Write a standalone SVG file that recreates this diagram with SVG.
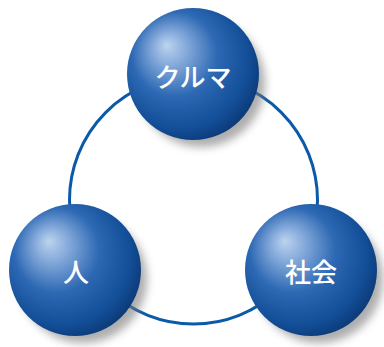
<svg xmlns="http://www.w3.org/2000/svg" width="384" height="347" viewBox="0 0 384 347">
<style>
.lbl{font-family:"Noto Sans CJK JP","Noto Sans",sans-serif;font-size:26px;font-weight:500;fill:#fff;text-anchor:middle;dominant-baseline:central}
.ring{fill:none;stroke:#0b5aa8;stroke-width:3}
.ball{fill:url(#g)}
.sh{fill:#777;opacity:0.6;filter:url(#b)}
</style>
<defs>
<radialGradient id="g" cx="0.42" cy="0.42" r="0.65" fx="0.3" fy="0.28">
<stop offset="0" stop-color="#bcd4ee"/>
<stop offset="0.2" stop-color="#84a9da"/>
<stop offset="0.5" stop-color="#2c68b3"/>
<stop offset="0.8" stop-color="#134f98"/>
<stop offset="1" stop-color="#0a3470"/>
</radialGradient>
<filter id="b" x="-30%" y="-30%" width="160%" height="160%"><feGaussianBlur stdDeviation="4"/></filter>
</defs>
<g id="connectors">
<circle class="ring" cx="193.5" cy="200" r="124"/>
</g>
<g id="node-kuruma">
<circle class="sh" cx="201" cy="83" r="64"/>
<circle class="ball" cx="193" cy="74" r="66"/>
<text class="lbl" x="193" y="75">クルマ</text>
</g>
<g id="node-hito">
<circle class="sh" cx="83" cy="279" r="64"/>
<circle class="ball" cx="75" cy="270" r="66"/>
<text class="lbl" x="76" y="270">人</text>
</g>
<g id="node-shakai">
<circle class="sh" cx="319" cy="279" r="64"/>
<circle class="ball" cx="311" cy="270" r="66"/>
<text class="lbl" x="311" y="270">社会</text>
</g>
</svg>
